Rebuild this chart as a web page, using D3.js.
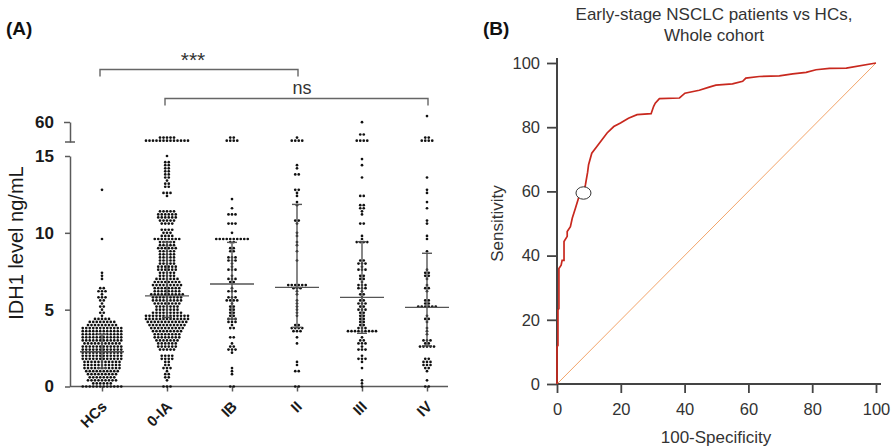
<!DOCTYPE html>
<html><head><meta charset="utf-8">
<script src="https://cdn.jsdelivr.net/npm/d3@7"></script>
<style>
body{margin:0;background:#fff}
svg{display:block}
text{font-family:"Liberation Sans",Arial,Helvetica,sans-serif}
</style>
</head><body>
<svg id="chart" width="892" height="447"></svg>
<script>
// ---------- Panel A data ----------
const categories = ["HCs","0-IA","IB","II","III","IV"];
const hcs = [12.7,9.5,7.3,7.2,7.0,6.4,6.4,6.2,6.2,6.2,6.0,5.8,5.8,5.8,5.6,5.6,5.4,5.2,5.2,5.0,4.8,4.8,4.6,
4.4,4.4,4.4,4.4,4.4,
4.2,4.2,4.2,4.2,4.2,4.2,4.2,4.2,
4.0,4.0,4.0,4.0,4.0,4.0,4.0,4.0,4.0,
3.8,3.8,3.8,3.8,3.8,3.8,3.8,3.8,3.8,3.8,3.8,3.8,
3.6,3.6,3.6,3.6,3.6,3.6,3.6,3.6,3.6,3.6,3.6,3.6,
3.4,3.4,3.4,3.4,3.4,3.4,3.4,3.4,3.4,3.4,3.4,3.4,
3.2,3.2,3.2,3.2,3.2,3.2,3.2,3.2,3.2,3.2,3.2,3.2,
3.0,3.0,3.0,3.0,3.0,3.0,3.0,3.0,3.0,3.0,3.0,3.0,
2.8,2.8,2.8,2.8,2.8,2.8,2.8,2.8,2.8,2.8,2.8,
2.6,2.6,2.6,2.6,2.6,2.6,2.6,2.6,2.6,2.6,2.6,2.6,
2.4,2.4,2.4,2.4,2.4,2.4,2.4,2.4,2.4,2.4,2.4,2.4,
2.2,2.2,2.2,2.2,2.2,2.2,2.2,2.2,2.2,2.2,2.2,2.2,
2.0,2.0,2.0,2.0,2.0,2.0,2.0,2.0,2.0,2.0,2.0,2.0,
1.8,1.8,1.8,1.8,1.8,1.8,1.8,1.8,1.8,1.8,1.8,1.8,
1.6,1.6,1.6,1.6,1.6,1.6,1.6,1.6,1.6,1.6,1.6,
1.4,1.4,1.4,1.4,1.4,1.4,1.4,1.4,1.4,1.4,1.4,
1.2,1.2,1.2,1.2,1.2,1.2,1.2,1.2,1.2,1.2,1.2,
1.0,1.0,1.0,1.0,1.0,1.0,1.0,1.0,1.0,1.0,
0.8,0.8,0.8,0.8,0.8,0.8,0.8,0.8,0.8,
0.6,0.6,0.6,0.6,0.6,0.6,0.6,0.6,
0.4,0.4,0.4,0.4,0.4,0.4,0.4,0.4,0.4,
0.2,0.2,0.2,0.2,0.2,0.2,
0.0,0.0,0.0,0.0,0.0,0.0,0.0,0.0,0.0,0.0,0.0,0.0];

const stage0IA = [24,25,26,25,27,
19,20,19,20,19,20,19,20,19,20,19,20,19,
15.0,14.6,14.6,14.4,14.4,14.2,14.2,14.0,14.0,13.8,13.8,13.6,13.6,13.4,13.2,13.2,13.0,13.0,12.6,12.6,12.6,12.4,
11.4,11.4,11.4,11.4,11.4,
11.2,11.2,11.2,11.2,11.2,11.2,
11.0,11.0,11.0,11.0,11.0,11.0,
10.8,10.8,10.8,10.8,10.8,
10.6,10.6,10.6,10.6,
10.2,10.2,10.2,10.2,
10.0,10.0,10.0,
9.8,9.8,9.8,9.8,
9.6,9.6,9.6,9.6,9.6,9.6,9.6,9.6,
9.4,9.4,9.4,9.4,9.4,
9.2,9.2,9.2,9.2,9.2,
9.0,9.0,9.0,9.0,9.0,9.0,
8.8,8.8,8.8,8.8,8.8,
8.6,8.6,8.6,8.6,8.6,
8.4,8.4,8.4,8.4,8.4,
8.2,8.2,8.2,8.2,8.2,
8.0,8.0,8.0,8.0,8.0,
7.8,7.8,7.8,7.8,7.8,7.8,
7.6,7.6,7.6,7.6,7.6,7.6,
7.4,7.4,7.4,7.4,7.4,
7.2,7.2,7.2,7.2,7.2,
7.0,7.0,7.0,7.0,7.0,7.0,7.0,
6.8,6.8,6.8,6.8,6.8,6.8,6.8,6.8,
6.6,6.6,6.6,6.6,6.6,6.6,6.6,6.6,6.6,
6.4,6.4,6.4,6.4,6.4,6.4,6.4,6.4,
6.2,6.2,6.2,6.2,6.2,6.2,6.2,6.2,
6.0,6.0,6.0,6.0,6.0,6.0,6.0,6.0,6.0,6.0,
5.8,5.8,5.8,5.8,5.8,5.8,5.8,5.8,5.8,
5.6,5.6,5.6,5.6,5.6,5.6,5.6,5.6,5.6,
5.4,5.4,5.4,5.4,5.4,5.4,5.4,5.4,
5.2,5.2,5.2,5.2,5.2,5.2,5.2,
5.0,5.0,5.0,5.0,5.0,5.0,5.0,
4.8,4.8,4.8,4.8,4.8,4.8,4.8,4.8,4.8,
4.6,4.6,4.6,4.6,4.6,4.6,4.6,4.6,4.6,4.6,4.6,4.6,4.6,
4.4,4.4,4.4,4.4,4.4,4.4,4.4,4.4,4.4,4.4,4.4,4.4,4.4,
4.2,4.2,4.2,4.2,4.2,4.2,4.2,4.2,4.2,4.2,4.2,4.2,
4.0,4.0,4.0,4.0,4.0,4.0,4.0,4.0,4.0,4.0,4.0,
3.8,3.8,3.8,3.8,3.8,3.8,3.8,3.8,3.8,3.8,
3.6,3.6,3.6,3.6,3.6,3.6,3.6,3.6,3.6,
3.4,3.4,3.4,3.4,3.4,3.4,3.4,3.4,
3.2,3.2,3.2,3.2,3.2,3.2,3.2,3.2,
3.0,3.0,3.0,3.0,3.0,3.0,3.0,
2.8,2.8,2.8,2.8,2.8,2.8,
2.6,2.6,2.6,2.6,2.6,2.6,
2.4,2.4,2.4,2.4,2.4,
2.0,2.0,2.0,2.0,
1.8,1.8,1.8,1.8,
1.6,1.6,1.4,1.4,1.2,1.2,1.2,1.0,0.8,0.8,0.6,0.6,0.4,
0.0,0.0,0.0];

const stageIB = [17,17,17,17,24,24,
12.25,11.6,11.2,11.2,11.1,10.6,10.6,10.5,10.0,
9.6,9.6,9.6,9.6,9.6,9.6,9.6,9.6,9.6,9.6,
9.3,9.3,9.0,8.9,8.8,8.8,8.4,8.4,8.3,8.2,8.2,8.1,
7.9,7.7,7.6,7.5,7.5,7.1,7.0,7.0,6.9,6.8,6.8,
6.3,6.2,6.2,6.1,5.8,5.8,5.7,5.6,5.6,5.5,5.5,
5.3,5.2,5.1,5.0,5.0,4.8,4.7,4.6,4.5,4.4,4.4,4.3,4.2,4.2,
4.1,3.9,3.8,3.7,3.2,3.1,2.7,2.6,2.5,2.4,2.3,2.3,2.2,
1.1,0.9,0.8,0.0,0.0];

const stageII = [17,17,17,17,22,
14.3,14.2,13.8,13.7,12.8,12.7,12.5,12.4,11.9,11.8,
10.7,10.7,10.6,9.9,9.8,9.3,9.2,8.7,8.1,
6.5,6.5,6.5,6.5,6.5,6.5,6.3,6.3,6.3,6.1,6.0,
5.5,5.3,5.2,4.9,4.7,4.5,
4.0,3.9,3.8,3.8,3.7,3.7,3.6,3.6,3.5,
3.1,2.7,1.5,1.4,0.9,0.9,0.0,0.0];

const stageIII = [60.7,30.7,30.7,17,17,17,17,
14.85,14.4,13.65,12.4,12.4,11.8,11.7,11.6,11.5,11.4,11.2,10.6,10.5,
9.75,9.5,9.4,9.4,9.4,9.35,8.2,8.1,8.0,8.0,7.9,7.7,7.6,7.5,7.5,
7.2,7.1,7.0,6.9,6.7,6.6,6.5,6.5,6.4,6.3,6.3,6.1,6.0,5.9,
5.7,5.6,5.5,5.4,5.3,5.3,5.2,5.1,5.0,5.0,4.9,4.8,
4.7,4.6,4.5,4.4,4.3,4.2,4.1,4.0,3.9,3.8,3.8,3.7,
3.5,3.5,3.5,3.5,3.5,3.5,3.5,3.5,3.5,
3.1,3.0,2.9,2.8,2.8,2.7,2.5,2.4,2.3,2.3,
1.9,1.8,1.8,1.7,1.6,1.1,0.3,0.15,0.0];

const stageIV = [75.7,26,26,17,17,17,17,
13.6,12.7,12.5,11.9,11.6,10.7,10.5,9.8,9.6,8.7,
7.5,7.4,7.3,7.2,7.1,7.0,6.6,6.4,6.3,6.2,
5.6,5.5,5.4,5.4,5.2,5.2,5.2,5.2,5.2,5.2,
4.6,4.4,4.3,4.2,3.8,3.6,3.4,
3.0,2.9,2.9,2.8,2.7,2.6,2.6,2.6,2.5,2.5,
1.8,1.7,1.6,1.6,1.5,1.4,1.3,1.3,1.2,1.2,
0.9,0.4,0.0,0.0];

const groupValues = [hcs, stage0IA, stageIB, stageII, stageIII, stageIV];
const medians = [2.26, 5.9, 6.67, 6.45, 5.8, 5.15];
const q1Values = [1.2, 4.5, 4.39, 3.85, 3.46, 2.65];
const q3Values = [3.4, 9.4, 9.38, 11.85, 9.42, 8.67];
const yTicksLow = [0, 5, 10, 15];
const yTicksHigh = [60];
const brackets = [
  {from: "HCs", to: "II", label: "***"},
  {from: "0-IA", to: "IV", label: "ns"}
];

// ---------- Panel B data ----------
const rocFpr  = [0,0,0.3,0.3,0.6,0.6,1.3,1.6,2.2,2.2,3.2,3.2,4.2,4.8,5.8,6.9,8.3,8.9,9.6,9.9,10.9,12.5,14.1,15.7,17.8,19.9,22.4,25.1,29.5,30.3,30.8,32.1,38.4,40.1,44.6,47.7,49.8,55,58.2,59.2,63.4,69.7,73.9,78.1,81.2,85.4,90.7,100];
const rocSens = [0,11.6,12,23,23.5,36,37,38.5,38.5,44.4,46,47.5,49,51.7,54.8,58.4,59.5,62,66,68.3,71.9,74,76.1,78.2,80.2,81.3,82.8,83.9,84.2,86.5,87.5,88.9,89.1,90.6,91.5,92.5,93.1,93.5,94.3,95.3,95.8,96.0,96.6,97.1,97.9,98.3,98.4,100];
const cutoffPoint = [8.3, 59.5];
const rocTicks = [0, 20, 40, 60, 80, 100];
const rocTitle = ["Early-stage NSCLC patients vs HCs,", "Whole cohort"];

// ---------- Drawing ----------
const svg = d3.select("#chart");
const axisGray = "#5a5a5a";

const xA = d3.scalePoint().domain(categories).range([102, 427]);
const yLow = d3.scaleLinear().domain([0, 15]).range([386.5, 156]);
const yHigh = d3.scaleLinear().domain([15, 60]).range([142, 122]);
const yA = v => v <= 15 ? yLow(v) : yHigh(v);

const gA = svg.append("g");

const axLow = gA.append("g").attr("transform", "translate(70,0)")
  .call(d3.axisLeft(yLow).tickValues(yTicksLow).tickSize(5).tickSizeOuter(0).tickPadding(11));
const axHigh = gA.append("g").attr("transform", "translate(70,0)")
  .call(d3.axisLeft(yHigh).tickValues(yTicksHigh).tickSize(6).tickSizeOuter(0).tickPadding(10));
[axLow, axHigh].forEach(ax => {
  ax.selectAll("path.domain").attr("stroke", axisGray).attr("stroke-width", 1.5);
  ax.selectAll(".tick line").attr("stroke", axisGray).attr("stroke-width", 1.5);
  ax.selectAll(".tick text").attr("fill", "#1a1a1a").style("font-size", "17px").style("font-weight", "bold");
});
gA.append("line").attr("x1", 65).attr("x2", 75).attr("y1", yHigh(15)).attr("y2", yHigh(15))
  .attr("stroke", axisGray).attr("stroke-width", 1.5);

gA.append("line").attr("x1", 70).attr("x2", 448).attr("y1", yLow(0)).attr("y2", yLow(0))
  .attr("stroke", axisGray).attr("stroke-width", 1.5);
const axX = gA.append("g").attr("transform", `translate(0,${yLow(0)})`)
  .call(d3.axisBottom(xA).tickSize(5).tickSizeOuter(0));
axX.select("path.domain").remove();
axX.selectAll(".tick line").attr("stroke", axisGray).attr("stroke-width", 1.5);
axX.selectAll(".tick text").remove();
gA.selectAll("text.xlab").data(categories).join("text").attr("class", "xlab")
  .attr("transform", d => `translate(${xA(d) + 6},${yLow(0) + 21}) rotate(-45)`)
  .attr("text-anchor", "end").attr("fill", "#1a1a1a")
  .style("font-size", "15px").style("font-weight", "bold").text(d => d);

gA.append("text").attr("transform", "translate(23,243) rotate(-90)")
  .attr("text-anchor", "middle").attr("fill", "#1a1a1a").style("font-size", "20px")
  .text("IDH1 level ng/mL");

// dots (row-binned scatter)
const y0 = yLow(0);
const rowH = yLow(0) - yLow(0.2);
const dx = 3.5;
const dots = [];
groupValues.forEach((vals, gi) => {
  const cx = xA(categories[gi]);
  const bins = d3.group(vals, v => Math.round((y0 - yA(v)) / rowH));
  bins.forEach((arr, b) => {
    const n = arr.length;
    arr.forEach((v, i) => dots.push({x: cx + (i - (n - 1) / 2) * dx, y: y0 - b * rowH}));
  });
});
gA.append("g").selectAll("circle").data(dots).join("circle")
  .attr("cx", d => d.x).attr("cy", d => d.y).attr("r", 1.35).attr("fill", "#111");

const statG = gA.append("g").attr("stroke", "#555").attr("stroke-width", 1.4);
categories.forEach((c, i) => {
  const cx = xA(c);
  statG.append("line").attr("x1", cx - 22).attr("x2", cx + 22).attr("y1", yLow(medians[i])).attr("y2", yLow(medians[i]));
  statG.append("line").attr("x1", cx).attr("x2", cx).attr("y1", yLow(q1Values[i])).attr("y2", yLow(q3Values[i]));
  statG.append("line").attr("x1", cx - 5).attr("x2", cx + 5).attr("y1", yLow(q1Values[i])).attr("y2", yLow(q1Values[i]));
  statG.append("line").attr("x1", cx - 5).attr("x2", cx + 5).attr("y1", yLow(q3Values[i])).attr("y2", yLow(q3Values[i]));
});

const bracketY = [69.5, 98.5];
const labelY = [67, 94];
brackets.forEach((br, i) => {
  const x1 = xA(br.from) - 2, x2 = xA(br.to) + 1;
  gA.append("path").attr("d", `M${x1},${bracketY[i] + 7}V${bracketY[i]}H${x2}V${bracketY[i] + 7}`)
    .attr("fill", "none").attr("stroke", "#666").attr("stroke-width", 1.4);
  gA.append("text").attr("x", i === 0 ? 193 : 302).attr("y", labelY[i])
    .attr("text-anchor", "middle").attr("fill", "#333")
    .style("font-size", i === 0 ? "21px" : "18px").text(br.label);
});

gA.append("text").attr("x", 6).attr("y", 35).attr("fill", "#111")
  .style("font-size", "19px").style("font-weight", "bold").text("(A)");

// ---------- Panel B ----------
const gB = svg.append("g");
const xB = d3.scaleLinear().domain([0, 100]).range([557, 876]);
const yB = d3.scaleLinear().domain([0, 100]).range([384, 63]);
const bGray = "#444";

const axBY = gB.append("g").attr("transform", `translate(${xB(0)},0)`)
  .call(d3.axisLeft(yB).tickValues(rocTicks).tickSize(10).tickSizeOuter(0).tickPadding(7));
const axBX = gB.append("g").attr("transform", `translate(0,${yB(0)})`)
  .call(d3.axisBottom(xB).tickValues(rocTicks).tickSize(9).tickSizeOuter(0).tickPadding(10));
[axBY, axBX].forEach(ax => {
  ax.select("path.domain").remove();
  ax.selectAll(".tick line").attr("stroke", bGray).attr("stroke-width", 1.8);
  ax.selectAll(".tick text").attr("fill", "#333").style("font-size", "16.5px");
});
gB.append("line").attr("x1", xB(0)).attr("x2", xB(0)).attr("y1", 58).attr("y2", yB(0))
  .attr("stroke", bGray).attr("stroke-width", 2);
gB.append("line").attr("x1", xB(0) - 1).attr("x2", 881).attr("y1", yB(0)).attr("y2", yB(0))
  .attr("stroke", bGray).attr("stroke-width", 2);

gB.append("line").attr("x1", xB(0)).attr("y1", yB(0)).attr("x2", xB(100)).attr("y2", yB(100))
  .attr("stroke", "#f2a46a").attr("stroke-width", 1);

const rocPts = rocFpr.map((f, i) => [f, rocSens[i]]);
gB.append("path").datum(rocPts)
  .attr("d", d3.line().x(d => xB(d[0])).y(d => yB(d[1])))
  .attr("fill", "none").attr("stroke", "#c8281e").attr("stroke-width", 1.7);

gB.append("ellipse").attr("cx", xB(cutoffPoint[0])).attr("cy", yB(cutoffPoint[1]))
  .attr("rx", 7.5).attr("ry", 6.2).attr("fill", "#fff").attr("stroke", "#333").attr("stroke-width", 1);

gB.selectAll("text.title").data(rocTitle).join("text").attr("class", "title")
  .attr("x", 714).attr("y", (d, i) => 20 + i * 21).attr("text-anchor", "middle")
  .attr("fill", "#333").style("font-size", "17px").text(d => d);
gB.append("text").attr("x", 716).attr("y", 443).attr("text-anchor", "middle")
  .attr("fill", "#333").style("font-size", "17px").text("100-Specificity");
gB.append("text").attr("transform", `translate(503,${(yB(0) + yB(100)) / 2}) rotate(-90)`)
  .attr("text-anchor", "middle").attr("fill", "#333").style("font-size", "17px").text("Sensitivity");
gB.append("text").attr("x", 483).attr("y", 35).attr("fill", "#111")
  .style("font-size", "19px").style("font-weight", "bold").text("(B)");
</script>
</body></html>
